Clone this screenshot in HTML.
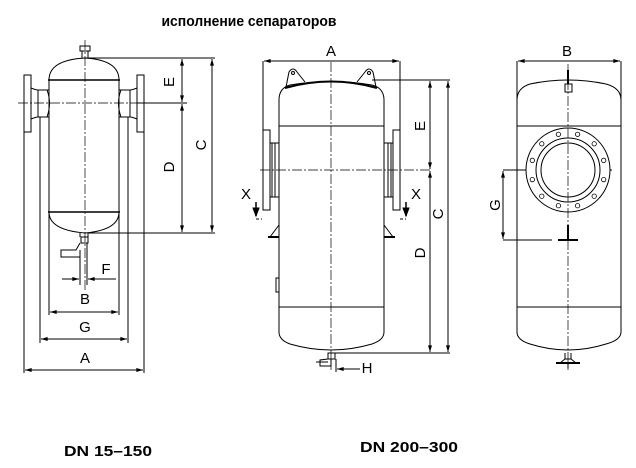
<!DOCTYPE html>
<html><head><meta charset="utf-8"><style>
html,body{margin:0;padding:0;background:#fff}
svg{display:block}
text{font-family:"Liberation Sans",sans-serif;fill:#000}
</style></head><body>
<svg width="636" height="468" viewBox="0 0 636 468" xmlns="http://www.w3.org/2000/svg">
<defs>
<marker id="ar" viewBox="0 0 10 6" refX="10" refY="3" markerWidth="8" markerHeight="4" orient="auto-start-reverse"><path d="M0,0L10,3L0,6z" fill="#000"/></marker>
</defs>
<text x="249" y="26" font-size="15" font-weight="bold" text-anchor="middle" textLength="175" lengthAdjust="spacingAndGlyphs">исполнение сепараторов</text>
<text x="64" y="456" font-size="15" font-weight="bold" textLength="88" lengthAdjust="spacingAndGlyphs">DN 15–150</text>
<text x="360" y="452" font-size="15" font-weight="bold" textLength="98" lengthAdjust="spacingAndGlyphs">DN 200–300</text>

<g fill="none" stroke="#000" stroke-width="1">
<!-- LEFT -->
<line x1="85" y1="40" x2="85" y2="290" stroke-dasharray="10,2,2,2" stroke-width="0.7"/>
<line x1="18" y1="103" x2="187" y2="103" stroke-dasharray="10,2,2,2" stroke-width="0.7"/>
<rect x="80" y="46" width="10" height="5"/>
<line x1="82" y1="51" x2="82" y2="58"/><line x1="88" y1="51" x2="88" y2="58"/>
<path d="M49,80 Q49,60 85,58 Q119,60 119,80"/>
<line x1="48" y1="80" x2="120" y2="80" stroke-width="1.6"/>
<line x1="49" y1="80" x2="49" y2="212"/><line x1="119" y1="80" x2="119" y2="212"/>
<line x1="48" y1="212" x2="120" y2="212" stroke-width="1.6"/>
<path d="M49,212 Q49,230 85,233 Q119,230 119,212"/>
<rect x="24" y="75" width="7" height="57"/><rect x="137" y="75" width="7" height="57"/>
<path d="M31,88 Q36,90 38,90 L49,90 M31,119 Q36,117 38,117 L49,117 M38,90 L38,117"/>
<path d="M137,88 Q132,90 130,90 L119,90 M137,119 Q132,117 130,117 L119,117 M130,90 L130,117"/>
<path d="M47,90 Q52,103 47,117 M121,90 Q116,103 121,117"/>
<rect x="81" y="237" width="7" height="6"/>
<path d="M80,233 L80,237 M88,233 L88,237 M80,243 L76,250 L61,250 L61,257 L80,257 L80,250"/>
<line x1="80" y1="257" x2="80" y2="285"/><line x1="87" y1="243" x2="87" y2="285"/>
<line x1="85" y1="58" x2="215" y2="58"/><line x1="88" y1="233" x2="215" y2="233"/>
<line x1="137" y1="103" x2="187" y2="103"/>
<line x1="182" y1="59" x2="182" y2="102" marker-start="url(#ar)" marker-end="url(#ar)"/>
<line x1="182" y1="104" x2="182" y2="232" marker-start="url(#ar)" marker-end="url(#ar)"/>
<line x1="212" y1="59" x2="212" y2="232" marker-start="url(#ar)" marker-end="url(#ar)"/>
<line x1="24" y1="132" x2="24" y2="373"/><line x1="144" y1="132" x2="144" y2="373"/>
<line x1="40" y1="117" x2="40" y2="343"/><line x1="128" y1="117" x2="128" y2="343"/>
<line x1="49" y1="212" x2="49" y2="315"/><line x1="119" y1="212" x2="119" y2="315"/>
<line x1="25" y1="370" x2="143" y2="370" marker-start="url(#ar)" marker-end="url(#ar)"/>
<line x1="41" y1="339" x2="127" y2="339" marker-start="url(#ar)" marker-end="url(#ar)"/>
<line x1="50" y1="312" x2="118" y2="312" marker-start="url(#ar)" marker-end="url(#ar)"/>
<line x1="62" y1="279" x2="79" y2="279" marker-end="url(#ar)"/>
<line x1="116" y1="279" x2="88" y2="279" marker-end="url(#ar)"/>

<!-- MIDDLE -->
<line x1="331" y1="62" x2="331" y2="370" stroke-dasharray="10,2,2,2" stroke-width="0.7"/>
<line x1="260" y1="170" x2="432" y2="170" stroke-dasharray="10,2,2,2" stroke-width="0.7"/>
<line x1="263" y1="61" x2="263" y2="130"/><line x1="400" y1="61" x2="400" y2="130"/>
<line x1="264" y1="61" x2="399" y2="61" marker-start="url(#ar)" marker-end="url(#ar)"/>
<path d="M279,100 Q279,88 290,85 Q331,78 372,85 Q384,88 384,100"/>
<path d="M285,88 Q331,75 377,88" stroke-width="2"/>
<path d="M286,87 L289,72 Q293,66 297,72 L305,82 M376,87 L373,72 Q369,66 365,72 L357,82"/>
<circle cx="293" cy="73" r="1.5"/><circle cx="369" cy="73" r="1.5"/>
<line x1="372" y1="80" x2="450" y2="80"/>
<line x1="279" y1="100" x2="279" y2="332"/><line x1="384" y1="100" x2="384" y2="332"/>
<line x1="279" y1="126" x2="384" y2="126"/><line x1="279" y1="307" x2="384" y2="307"/>
<path d="M279,332 Q279,340 290,344 Q331,356 372,344 Q384,340 384,332"/>
<line x1="331" y1="353" x2="450" y2="353"/>
<rect x="263" y="130" width="7" height="80"/><rect x="393" y="130" width="7" height="80"/>
<path d="M270,143 L279,143 M270,197 L279,197 M275,143 L275,197 M272,143 L272,197"/>
<path d="M393,143 L384,143 M393,197 L384,197 M388,143 L388,197 M391,143 L391,197"/>
<path d="M279,225 L270,237 L278,237 M384,225 L393,237 L385,237"/>
<line x1="268" y1="237" x2="279" y2="237" stroke-width="2"/><line x1="384" y1="237" x2="395" y2="237" stroke-width="2"/>
<rect x="276" y="278" width="3" height="14"/>
<line x1="256" y1="202" x2="256" y2="216" stroke-width="1.5"/><path d="M253,208 L259,208 L256,216z" fill="#000"/>
<path d="M256,219 L262,219" stroke-dasharray="3,2"/>
<line x1="406" y1="202" x2="406" y2="216" stroke-width="1.5"/><path d="M403,208 L409,208 L406,216z" fill="#000"/>
<path d="M400,219 L406,219" stroke-dasharray="3,2"/>
<rect x="328" y="353" width="7" height="6"/>
<path d="M328,359 L320,360 L320,366 L331,366 L331,359 M316,362 L328,362"/>
<line x1="336" y1="359" x2="336" y2="372"/>
<line x1="360" y1="369" x2="337" y2="369" marker-end="url(#ar)"/>
<line x1="430" y1="81" x2="430" y2="169" marker-start="url(#ar)" marker-end="url(#ar)"/>
<line x1="430" y1="171" x2="430" y2="352" marker-start="url(#ar)" marker-end="url(#ar)"/>
<line x1="448" y1="81" x2="448" y2="352" marker-start="url(#ar)" marker-end="url(#ar)"/>

<!-- RIGHT -->
<line x1="568" y1="64" x2="568" y2="370" stroke-dasharray="10,2,2,2" stroke-width="0.7"/>
<line x1="517" y1="61" x2="517" y2="100"/><line x1="621" y1="61" x2="621" y2="100"/>
<line x1="518" y1="61" x2="620" y2="61" marker-start="url(#ar)" marker-end="url(#ar)"/>
<path d="M517,100 Q517,88 530,84 Q568,76 606,84 Q621,88 621,100"/>
<line x1="517" y1="100" x2="517" y2="332"/><line x1="621" y1="100" x2="621" y2="332"/>
<line x1="517" y1="126" x2="621" y2="126"/><line x1="517" y1="307" x2="621" y2="307"/>
<path d="M517,332 Q517,340 530,344 Q568,356 606,344 Q621,340 621,332"/>
<rect x="565" y="84" width="7" height="8"/><line x1="568" y1="70" x2="568" y2="84" stroke-width="2"/>
<circle cx="568" cy="170" r="42"/><circle cx="568" cy="170" r="32"/><circle cx="568" cy="170" r="27"/>
<g stroke-width="0.8">
<circle cx="577.6" cy="134.3" r="2.2"/><circle cx="558.4" cy="134.3" r="2.2"/>
<circle cx="594.2" cy="143.8" r="2.2"/><circle cx="541.8" cy="143.8" r="2.2"/>
<circle cx="603.7" cy="160.4" r="2.2"/><circle cx="532.3" cy="160.4" r="2.2"/>
<circle cx="603.7" cy="179.6" r="2.2"/><circle cx="532.3" cy="179.6" r="2.2"/>
<circle cx="594.2" cy="196.2" r="2.2"/><circle cx="541.8" cy="196.2" r="2.2"/>
<circle cx="577.6" cy="205.7" r="2.2"/><circle cx="558.4" cy="205.7" r="2.2"/>
</g>
<line x1="503" y1="170" x2="526" y2="170"/><line x1="610" y1="170" x2="612" y2="170"/>
<line x1="503" y1="240" x2="552" y2="240"/>
<line x1="568" y1="225" x2="568" y2="240" stroke-width="2"/>
<line x1="558" y1="240" x2="578" y2="240" stroke-width="2"/>
<line x1="503" y1="171" x2="503" y2="239" marker-start="url(#ar)" marker-end="url(#ar)"/>
<path d="M565,353 L565,359 L571,359 L571,353 M565,359 L560,363 L576,363 L571,359 M568,363 L568,368"/>
<line x1="556" y1="363" x2="580" y2="363" stroke-width="2"/>
</g>

<g font-size="15">
<text x="85" y="304" text-anchor="middle">B</text>
<text x="85" y="332" text-anchor="middle">G</text>
<text x="85" y="363" text-anchor="middle">A</text>
<text x="106" y="274" text-anchor="middle">F</text>
<text transform="translate(174,82) rotate(-90)" text-anchor="middle">E</text>
<text transform="translate(174,167) rotate(-90)" text-anchor="middle">D</text>
<text transform="translate(206,145) rotate(-90)" text-anchor="middle">C</text>
<text x="331" y="56" text-anchor="middle">A</text>
<text x="367" y="373" text-anchor="middle">H</text>
<text x="246" y="199" text-anchor="middle">X</text>
<text x="416" y="199" text-anchor="middle">X</text>
<text transform="translate(425,126) rotate(-90)" text-anchor="middle">E</text>
<text transform="translate(425,253) rotate(-90)" text-anchor="middle">D</text>
<text transform="translate(443,214) rotate(-90)" text-anchor="middle">C</text>
<text x="567" y="56" text-anchor="middle">B</text>
<text transform="translate(500,205) rotate(-90)" text-anchor="middle">G</text>
</g>
</svg>
</body></html>
